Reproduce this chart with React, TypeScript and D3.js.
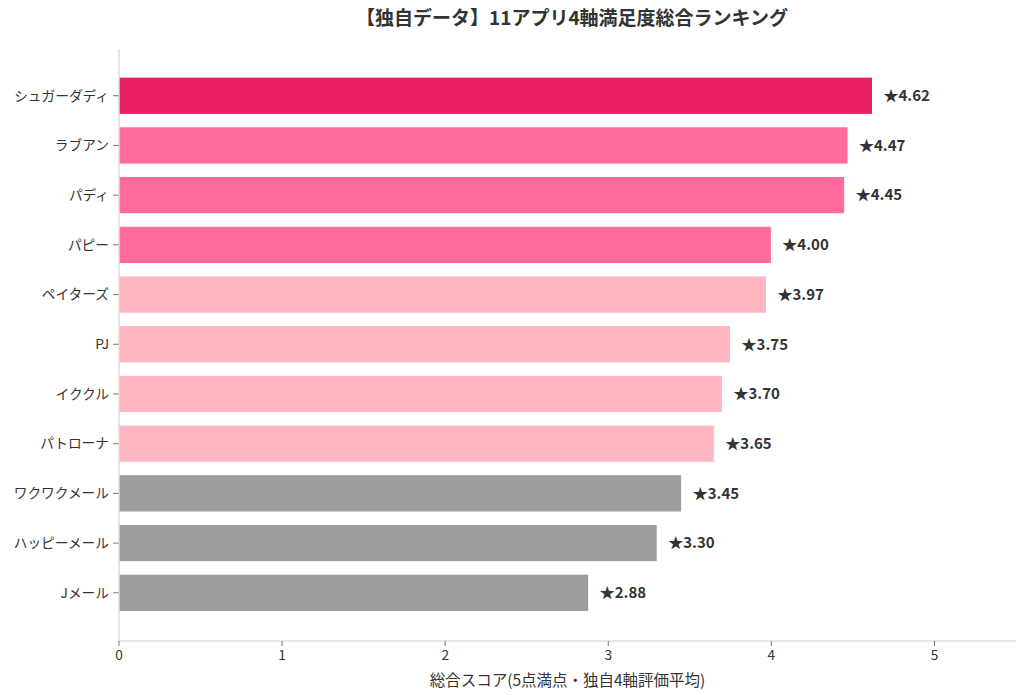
import React from 'react';
import * as d3 from 'd3';

const apps = [
  'シュガーダディ', 'ラブアン', 'パディ', 'パピー', 'ペイターズ', 'PJ',
  'イククル', 'パトローナ', 'ワクワクメール', 'ハッピーメール', 'Jメール',
];
const scores = [4.62, 4.47, 4.45, 4.0, 3.97, 3.75, 3.7, 3.65, 3.45, 3.3, 2.88];
const barColors = [
  '#E91E63', '#FF6B9D', '#FF6B9D', '#FF6B9D', '#FFB6C1', '#FFB6C1',
  '#FFB6C1', '#FFB6C1', '#9E9E9E', '#9E9E9E', '#9E9E9E',
];
const xTicks = [0, 1, 2, 3, 4, 5];
const xMax = 5.5;

const title = '【独自データ】11アプリ4軸満足度総合ランキング';
const xLabel = '総合スコア(5点満点・独自4軸評価平均)';

const W = 1024;
const H = 695;
const font = '"Noto Sans CJK JP", "Noto Sans", sans-serif';

const App: React.FC = () => {
  const left = 119;
  const right = 1016;
  const top = 49;
  const bottom = 641;

  const x = d3.scaleLinear().domain([0, xMax]).range([left, right]);

  // index 0 at the top, matplotlib-style margins around the bars
  const y = d3.scaleLinear().domain([-0.94, 10.97]).range([top, bottom]);
  const bh = y(0.75) - y(0);

  return (
    <svg
      width={W}
      height={H}
      style={{ position: 'absolute', left: 0, top: 0, background: '#fff' }}
      fontFamily={font}
    >
      <text
        x={572}
        y={25}
        textAnchor="middle"
        fontSize={19}
        fontWeight="bold"
        fill="#333"
      >
        {title}
      </text>

      {apps.map((a, i) => (
        <g key={a}>
          <rect
            x={x(0)}
            y={y(i) - bh / 2}
            width={x(scores[i]) - x(0)}
            height={bh}
            fill={barColors[i]}
            stroke="#fff"
            strokeWidth={1}
          />
          <text
            x={x(scores[i]) + 11}
            y={y(i)}
            dy="0.35em"
            fontSize={15}
            fontWeight="bold"
            fill="#333"
          >
            {'★' + scores[i].toFixed(2)}
          </text>
          <line x1={left - 6} x2={left} y1={y(i)} y2={y(i)} stroke="#555" strokeWidth={0.8} />
          <text
            x={left - 10}
            y={y(i)}
            dy="0.35em"
            textAnchor="end"
            fontSize={13.7}
            fill="#333"
          >
            {a}
          </text>
        </g>
      ))}

      <line x1={left} x2={left} y1={top} y2={bottom} stroke="#ccc" strokeWidth={1} />
      <line x1={left} x2={right} y1={bottom} y2={bottom} stroke="#ccc" strokeWidth={1} />

      {xTicks.map(t => (
        <g key={t}>
          <line x1={x(t)} x2={x(t)} y1={bottom} y2={bottom + 5} stroke="#555" strokeWidth={0.8} />
          <text x={x(t)} y={bottom + 19} textAnchor="middle" fontSize={13.7} fill="#333">
            {t}
          </text>
        </g>
      ))}

      <text x={(left + right) / 2} y={686} textAnchor="middle" fontSize={15.5} fill="#333">
        {xLabel}
      </text>
    </svg>
  );
};

export default App;
